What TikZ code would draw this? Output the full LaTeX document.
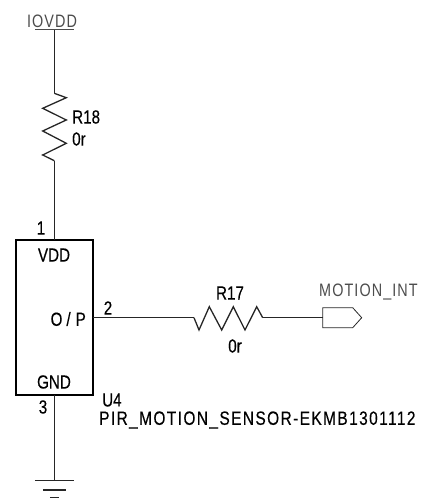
\documentclass[tikz,border=0pt]{standalone}
\usepackage{fontspec}
\newfontfamily\partfont[FakeStretch=0.8,FakeBold=0.3]{Liberation Sans}
\newfontfamily\valuefont[FakeStretch=0.8,FakeBold=0.3,LetterSpace=7.5]{Liberation Sans}
\newfontfamily\netfont[FakeStretch=0.8,LetterSpace=6]{Liberation Sans}
\tikzset{
  wire/.style={line width=1.3pt,black!85},
  partlabel/.style={inner sep=0pt,font=\partfont\fontsize{19}{19}\selectfont},
  valuelabel/.style={inner sep=0pt,font=\valuefont\fontsize{19.25}{19.25}\selectfont},
  netlabel/.style={inner sep=0pt,text=black!70,font=\netfont\fontsize{18}{18}\selectfont},
}
\def\RV#1{\draw [wire,line join=miter] (#1) -- ++(12,4.4) -- ++(-23.6,10.6) -- ++(23.6,11.7) -- ++(-23.6,11) -- ++(23.6,12.3) -- ++(-23.6,11.7) -- ++(11.6,5.7);}
\def\RH#1{\draw [wire,line join=miter] (#1) -- ++(5,12.3) -- ++(10.3,-23.3) -- ++(12.4,23.3) -- ++(11.6,-23.3) -- ++(11.7,23.3) -- ++(11.7,-23.3) -- ++(6,11);}
\begin{document}
\begin{tikzpicture}[x=1pt,y=-1pt]
  \useasboundingbox (0,0) rectangle (423,502);
  % sensor
  \node (u4) [draw,line width=1.5pt,minimum width=77pt,minimum height=155pt,inner sep=0pt] at (54.5,317.5) {};
  \node (vdd) [partlabel] at (54,255) {VDD};
  \node (op) [partlabel,anchor=east] at (86,319) {O\kern4pt/\kern5pt P};
  \node (gnd) [partlabel] at (54,382) {GND};
  \node (pin1) [partlabel] at (41,228) {1};
  \node (pin2) [partlabel] at (108,308) {2};
  \node (pin3) [partlabel] at (43,407) {3};
  \node (refdes) [partlabel,anchor=west] at (102,400) {U4};
  \node (value) [valuelabel,anchor=west] at (99,420) {PIR\_MOTION\_SENSOR-EKMB1301112};
  % supply
  \node (iovdd) [netlabel] at (52,21) {IOVDD};
  \coordinate (rail) at (54,30);
  \coordinate (railL) at (35,30);
  \coordinate (railR) at (74,30);
  \draw [line width=1pt,black!70] (railL) -- (railR);
  \coordinate (r18a) at (54.3,93.3);
  \coordinate (r18b) at (54.3,160.7);
  \coordinate (pad1) at (54.3,240);
  \draw [wire] (rail -| r18a) -- (r18a);
  \RV{r18a}
  \draw [wire] (r18b) -- (pad1);
  \node (r18) [partlabel,anchor=west] at (72,117) {R18};
  \node (r18v) [partlabel,anchor=west] at (72,139) {0r};
  % output
  \coordinate (pad2) at (93,317.7);
  \coordinate (r17a) at (194,317.7);
  \coordinate (r17b) at (262.7,317.7);
  \coordinate (port) at (322.7,317.7);
  \draw [wire] (pad2) -- (r17a);
  \RH{r17a}
  \draw [wire] (r17b) -- (port);
  \draw [line width=0.8pt,black!85] (port) -- ++(0,-10) -- ++(30,0) -- ++(9,10) -- ++(-9,10) -- ++(-30,0) -- cycle;
  \node (r17) [partlabel] at (230,293) {R17};
  \node (r17v) [partlabel] at (235,346) {0r};
  \node (motion) [netlabel,anchor=west] at (319,292) {MOTION\_INT};
  % ground
  \coordinate (pad3) at (54.3,395);
  \coordinate (earth) at (54.3,480.7);
  \draw [wire] (pad3) -- (earth);
  \draw [wire] (earth) ++(-19.5,0) -- ++(39,0);
  \draw [wire] (earth) ++(-11.5,9.3) -- ++(23,0);
  \draw [wire] (earth) ++(-4.5,17) -- ++(9,0);
\end{tikzpicture}
\end{document}
